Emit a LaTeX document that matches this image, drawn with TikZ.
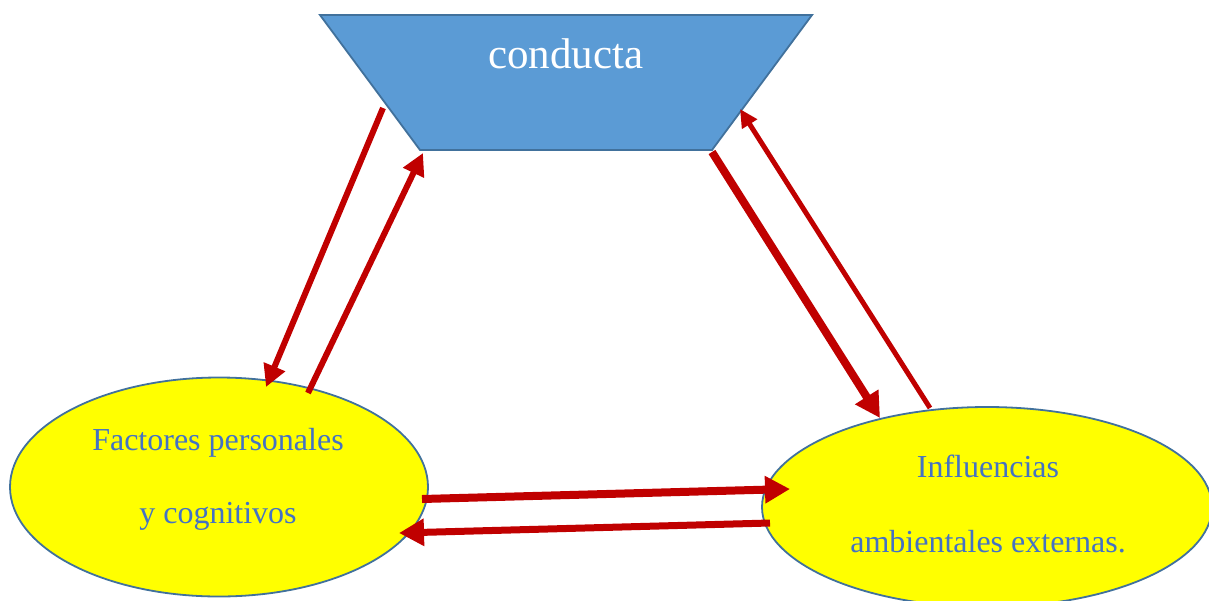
\documentclass[tikz,border=0pt]{standalone}
\usepackage{fontspec}
\setmainfont{Liberation Serif}
\usetikzlibrary{arrows.meta,shapes.geometric}
\definecolor{arrred}{HTML}{C00000}
\definecolor{boxblue}{HTML}{5B9BD5}
\definecolor{edgeblue}{HTML}{41719C}
\definecolor{txtblue}{HTML}{4472C4}
\definecolor{ellyellow}{HTML}{FFFF00}
\tikzset{
  ovalnode/.style={ellipse, draw=edgeblue, line width=1.8pt, fill=ellyellow, inner sep=0pt},
  ovaltext/.style={font=\fontsize{32}{32}\selectfont, text=txtblue, anchor=base, inner sep=0pt},
  arr/.style={draw=arrred, line cap=butt, -{Triangle[length=22pt,width=22pt]}, line width=6pt},
  bigarr/.style={draw=arrred, line cap=butt, -{Triangle[length=25pt,width=26pt]}, line width=8pt},
  thinarr/.style={draw=arrred, line cap=butt, -{Triangle[length=18pt,width=17pt]}, line width=5pt}
}
\begin{document}
\begin{tikzpicture}[x=1pt,y=-1pt]
\useasboundingbox (0,0) rectangle (1209,600);
\clip (0,0) rectangle (1209,600);
% trapezoid
\draw[fill=boxblue, draw=edgeblue, line width=1.8pt, line join=miter]
  (320,15) -- (812,15) -- (712,150) -- (420,150) -- cycle;
\node[font=\fontsize{43}{43}\selectfont, text=white, anchor=base, inner sep=0pt] (conducta) at (566,68) {conducta};
% ellipses
\node[ovalnode, minimum width=418pt, minimum height=219pt] (fp) at (219,487) {};
\node[ovaltext] (fp1) at (218,450) {Factores personales};
\node[ovaltext] (fp2) at (218,523) {y cognitivos};
\node[ovalnode, minimum width=450pt, minimum height=200pt] (ia) at (987,507) {};
\node[ovaltext] (ia1) at (988,477) {Influencias};
\node[ovaltext] (ia2) at (988,552) {ambientales externas.};
% arrow endpoints
\coordinate (a1s) at (383,108);
\coordinate (a1e) at (266,387);
\coordinate (a2s) at (308,393);
\coordinate (a2e) at (423,153);
\coordinate (a3s) at (712,152);
\coordinate (a3e) at (880,418);
\coordinate (a4s) at (930,408);
\coordinate (a4e) at (740,109);
\coordinate (a5s) at (422,499);
\coordinate (a5e) at (790,489);
\coordinate (a6s) at (770,523);
\coordinate (a6e) at (399,533);
\draw[arr] (a1s) -- (a1e);
\draw[arr] (a2s) -- (a2e);
\draw[bigarr] (a3s) -- (a3e);
\draw[thinarr] (a4s) -- (a4e);
\draw[bigarr] (a5s) -- (a5e);
\draw[bigarr, line width=7pt] (a6s) -- (a6e);
\end{tikzpicture}
\end{document}
